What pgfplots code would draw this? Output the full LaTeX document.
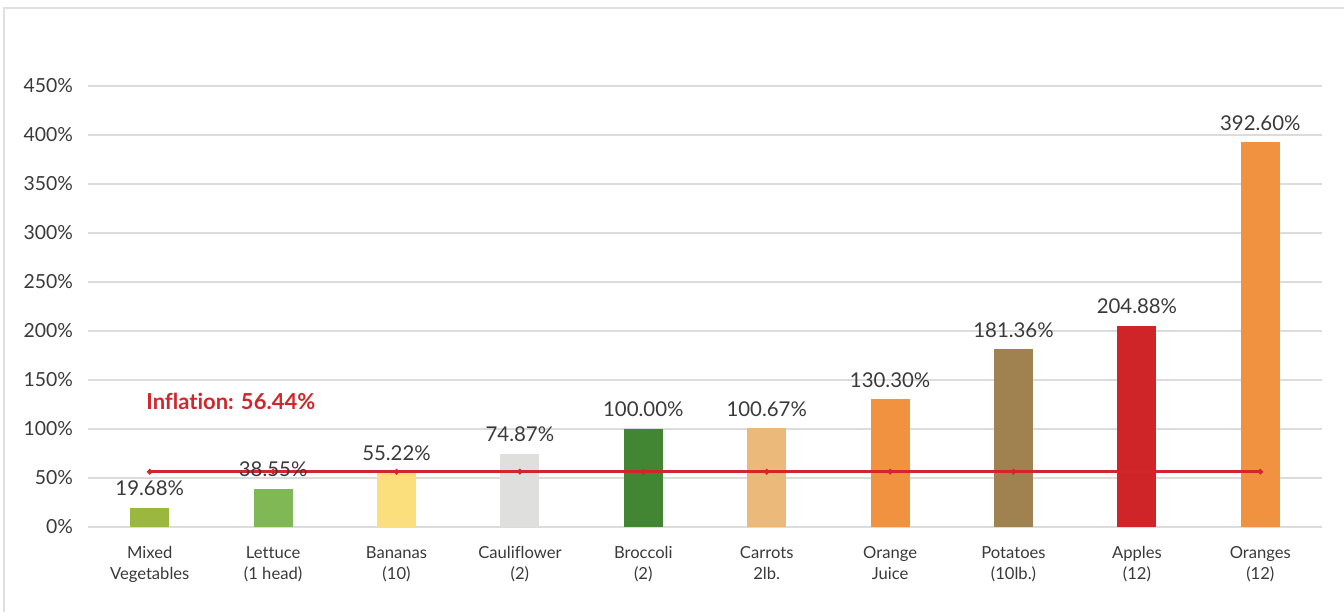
\documentclass[border=0pt]{standalone}
\usepackage{pgfplots}
\pgfplotsset{compat=1.18}
\usepackage{fontspec}
\setmainfont{Lato}[Ligatures={NoCommon,NoRare}]
\definecolor{txt}{HTML}{3A3A3A}
\definecolor{gridc}{HTML}{DCDCDC}
\definecolor{framec}{HTML}{E0E0E0}
\definecolor{cMixed}{HTML}{9BB83E}
\definecolor{cLettuce}{HTML}{80B855}
\definecolor{cBanana}{HTML}{FBDF7D}
\definecolor{cCauli}{HTML}{DFDFDD}
\definecolor{cBroc}{HTML}{428532}
\definecolor{cCarrot}{HTML}{EBBA7A}
\definecolor{cOJ}{HTML}{F19240}
\definecolor{cPotato}{HTML}{A08250}
\definecolor{cApple}{HTML}{CF2428}
\definecolor{cRed}{HTML}{D0272C}
\begin{document}
\begin{tikzpicture}
\useasboundingbox (0,0) rectangle (672pt,306pt);
\fill[white] (0,0) rectangle (672pt,306pt);
\draw[framec, line width=1.2pt] (2pt,0) -- (2pt,302pt) -- (672pt,302pt);
\begin{axis}[
  at={(44pt,42.5pt)}, anchor=south west,
  scale only axis, width=617pt, height=220.5pt,
  xmin=-0.5, xmax=9.5, ymin=0, ymax=450,
  axis line style={draw=none},
  major tick length=0pt,
  ymajorgrids, grid style={gridc, line width=1.1pt},
  ytick={0,50,...,450},
  yticklabels={0\%,50\%,100\%,150\%,200\%,250\%,300\%,350\%,400\%,450\%},
  yticklabel style={font=\fontsize{9.7pt}{11pt}\selectfont, text=txt, xshift=-4pt},
  xtick={0,...,9},
  xticklabels={{\strut Mixed\\Vegetables},{\strut Lettuce\\(1 head)},{\strut Bananas\\(10)},{\strut Cauliflower\\(2)},{\strut Broccoli\\(2)},{\strut Carrots\\2lb.},{\strut Orange\\Juice},{\strut Potatoes\\(10lb.)},{\strut Apples\\(12)},{\strut Oranges\\(12)}},
  xticklabel style={font=\fontsize{8.3pt}{10.5pt}\selectfont, text=txt, align=center, yshift=-5pt},
  clip=false,
  every node near coord/.append style={font=\fontsize{10.2pt}{12pt}\selectfont, text=txt, yshift=2.5pt},
]
\addplot[ybar, bar width=19.5pt, bar shift=0pt, fill=cMixed, draw=none, nodes near coords={19.68\%}] coordinates {(0,19.68)};
\addplot[ybar, bar width=19.5pt, bar shift=0pt, fill=cLettuce, draw=none, nodes near coords={38.55\%}] coordinates {(1,38.55)};
\addplot[ybar, bar width=19.5pt, bar shift=0pt, fill=cBanana, draw=none, nodes near coords={55.22\%}] coordinates {(2,55.22)};
\addplot[ybar, bar width=19.5pt, bar shift=0pt, fill=cCauli, draw=none, nodes near coords={74.87\%}] coordinates {(3,74.87)};
\addplot[ybar, bar width=19.5pt, bar shift=0pt, fill=cBroc, draw=none, nodes near coords={100.00\%}] coordinates {(4,100.00)};
\addplot[ybar, bar width=19.5pt, bar shift=0pt, fill=cCarrot, draw=none, nodes near coords={100.67\%}] coordinates {(5,100.67)};
\addplot[ybar, bar width=19.5pt, bar shift=0pt, fill=cOJ, draw=none, nodes near coords={130.30\%}] coordinates {(6,130.30)};
\addplot[ybar, bar width=19.5pt, bar shift=0pt, fill=cPotato, draw=none, nodes near coords={181.36\%}] coordinates {(7,181.36)};
\addplot[ybar, bar width=19.5pt, bar shift=0pt, fill=cApple, draw=none, nodes near coords={204.88\%}] coordinates {(8,204.88)};
\addplot[ybar, bar width=19.5pt, bar shift=0pt, fill=cOJ, draw=none, nodes near coords={392.60\%}] coordinates {(9,392.60)};
\addplot[cRed, line width=1.5pt, mark=*, mark size=0.5pt] coordinates {(0,56.44) (1,56.44) (2,56.44) (3,56.44) (4,56.44) (5,56.44) (6,56.44) (7,56.44) (8,56.44) (9,56.44)};
\node[anchor=west, inner sep=0pt, text=cRed, font=\bfseries\fontsize{11pt}{13pt}\selectfont] at (axis cs:-0.03,128.6) {Inflation: 56.44\%};
\end{axis}
\end{tikzpicture}
\end{document}
